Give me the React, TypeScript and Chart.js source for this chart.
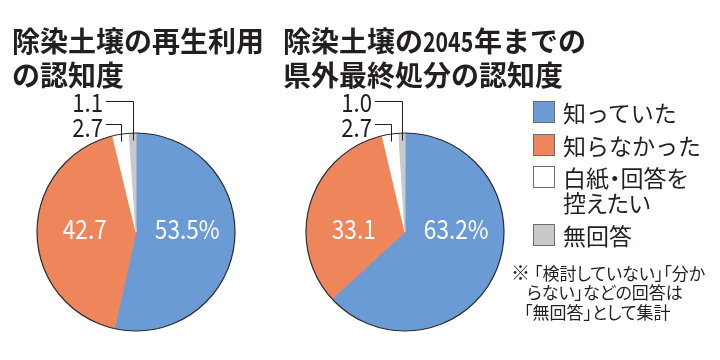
import React, { useEffect, useRef } from "react";
import { Chart, registerables } from "chart.js";

Chart.register(...registerables);

const categories = ["知っていた", "知らなかった", "白紙・回答を控えたい", "無回答"];
const reuseValues = [53.5, 42.7, 2.7, 1.1];
const disposalValues = [63.2, 33.1, 2.7, 1.0];
const sliceColors = ["#6b9bd5", "#ee855b", "#ffffff", "#c9c9ca"];
const reuseTitle = ["除染土壌の再生利用", "の認知度"];
const disposalTitleA = "除染土壌の";
const disposalTitleYear = "2045";
const disposalTitleB = "年までの";
const disposalTitle2 = "県外最終処分の認知度";
const noteMark = "※";
const noteLines = ["「検討していない」「分か", "らない」などの回答は", "「無回答」として集計"];

const INK = "#231f20";
const CJK = '"Noto Sans CJK JP", "Noto Sans", sans-serif';

const fmt = (v: number, i: number) => v.toFixed(1) + (i === 0 ? "%" : "");

const decorPlugin = {
  id: "pieDecor",
  afterDatasetsDraw(chart: any) {
    const ctx: CanvasRenderingContext2D = chart.ctx;
    const arcs = chart.getDatasetMeta(0).data as any[];
    const values = chart.data.datasets[0].data as number[];
    const a0 = arcs[0];
    const cx = a0.x;
    const cy = a0.y;
    const r = a0.outerRadius;

    const drawText = (text: string, x: number, y: number, align: CanvasTextAlign, color: string, size: number) => {
      ctx.save();
      ctx.translate(x, y);
      ctx.scale(0.87, 1);
      ctx.font = `400 ${size}px ${CJK}`;
      ctx.fillStyle = color;
      ctx.textAlign = align;
      ctx.textBaseline = "middle";
      ctx.fillText(text, 0, 0);
      ctx.restore();
    };

    ctx.save();
    ctx.beginPath();
    ctx.arc(cx, cy, r + 0.5, 0, Math.PI * 2);
    ctx.strokeStyle = "#2b2b2b";
    ctx.lineWidth = 1.2;
    ctx.stroke();
    ctx.restore();

    for (let i = 0; i < 2; i++) {
      const a = arcs[i];
      const mid = (a.startAngle + a.endAngle) / 2;
      const side = Math.cos(mid) >= 0 ? 1 : -1;
      drawText(fmt(values[i], i), cx + side * 0.52 * r, cy - 3, "center", "#ffffff", 26);
    }

    const top = cy - r;
    const leaders = [
      { i: 3, ly: top - 33, ty: top - 31 },
      { i: 2, ly: top - 10, ty: top - 6.5 },
    ];
    for (const l of leaders) {
      const a = arcs[l.i];
      const mid = (a.startAngle + a.endAngle) / 2;
      const ex = Math.round(cx + Math.cos(mid) * r) + 0.5;
      const ey = cy + Math.sin(mid) * r;
      const y = Math.round(l.ly) + 0.5;
      ctx.save();
      ctx.beginPath();
      ctx.moveTo(cx - 30, y);
      ctx.lineTo(ex, y);
      ctx.lineTo(ex, ey + 7);
      ctx.strokeStyle = INK;
      ctx.lineWidth = 1;
      ctx.stroke();
      ctx.restore();
      drawText(fmt(values[l.i], l.i), cx - 33, l.ty, "right", INK, 25.5);
    }
  },
};

function PieCanvas(props: { values: number[]; left: number; width: number; padL: number; padR: number }) {
  const ref = useRef<HTMLCanvasElement | null>(null);
  useEffect(() => {
    if (!ref.current) return;
    const chart = new Chart(ref.current, {
      type: "pie",
      data: {
        labels: categories,
        datasets: [
          {
            data: props.values,
            backgroundColor: sliceColors,
            borderColor: sliceColors,
            borderWidth: 1,
          },
        ],
      },
      options: {
        responsive: false,
        animation: false,
        events: [],
        layout: { padding: { left: props.padL, right: props.padR, top: 133, bottom: 29 } },
        plugins: { legend: { display: false }, tooltip: { enabled: false }, title: { display: false } },
      },
      plugins: [decorPlugin],
    } as any);
    return () => chart.destroy();
  }, []);
  return (
    <canvas
      ref={ref}
      width={props.width}
      height={360}
      style={{ position: "absolute", left: props.left, top: 0, width: props.width, height: 360, display: "block" }}
    />
  );
}

const legendRows = [
  { center: 112 },
  { center: 145 },
  { center: 177 },
  { center: 235 },
];

export default function App() {
  const titleStyle: React.CSSProperties = {
    position: "absolute",
    top: 23,
    font: `700 28px/34px ${CJK}`,
    color: INK,
    whiteSpace: "nowrap",
  };
  return (
    <div style={{ position: "absolute", left: 0, top: 0, width: 720, height: 360, background: "#ffffff", overflow: "hidden" }}>
      <PieCanvas values={reuseValues} left={0} width={272} padL={37} padR={37} />
      <PieCanvas values={disposalValues} left={272} width={268} padL={34} padR={36} />
      <div style={{ ...titleStyle, left: 12 }}>
        {reuseTitle.map((t) => (
          <div key={t}>{t}</div>
        ))}
      </div>
      <div style={{ ...titleStyle, left: 283 }}>
        <div>
          {disposalTitleA}
          <span style={{ display: "inline-block", transform: "scaleX(0.76)", transformOrigin: "left center", marginRight: -15 }}>
            {disposalTitleYear}
          </span>
          {disposalTitleB}
        </div>
        <div>{disposalTitle2}</div>
      </div>
      {categories.map((c, i) => (
        <React.Fragment key={c}>
          <div
            style={{
              position: "absolute",
              left: 533,
              top: legendRows[i].center - 11,
              width: 22,
              height: 22,
              boxSizing: "border-box",
              border: "1px solid #6d6e70",
              background: sliceColors[i],
            }}
          />
          <div
            style={{
              position: "absolute",
              left: 563,
              top: legendRows[i].center - 12.5,
              width: 142,
              font: `400 23px/25px ${CJK}`,
              fontFeatureSettings: c.includes("・") ? '"palt"' : "normal",
              color: INK,
            }}
          >
            {c}
          </div>
        </React.Fragment>
      ))}
      {noteLines.map((t, i) => (
        <div
          key={t}
          style={{
            position: "absolute",
            left: [511, 527, 524][i],
            top: 262 + i * 20,
            font: `400 17px/20px ${CJK}`,
            fontFeatureSettings: '"palt"',
            color: INK,
            whiteSpace: "nowrap",
          }}
        >
          {i === 0 ? (
            <span style={{ display: "inline-block", fontSize: 19, marginRight: 4 }}>{noteMark}</span>
          ) : null}
          {t}
        </div>
      ))}
    </div>
  );
}
